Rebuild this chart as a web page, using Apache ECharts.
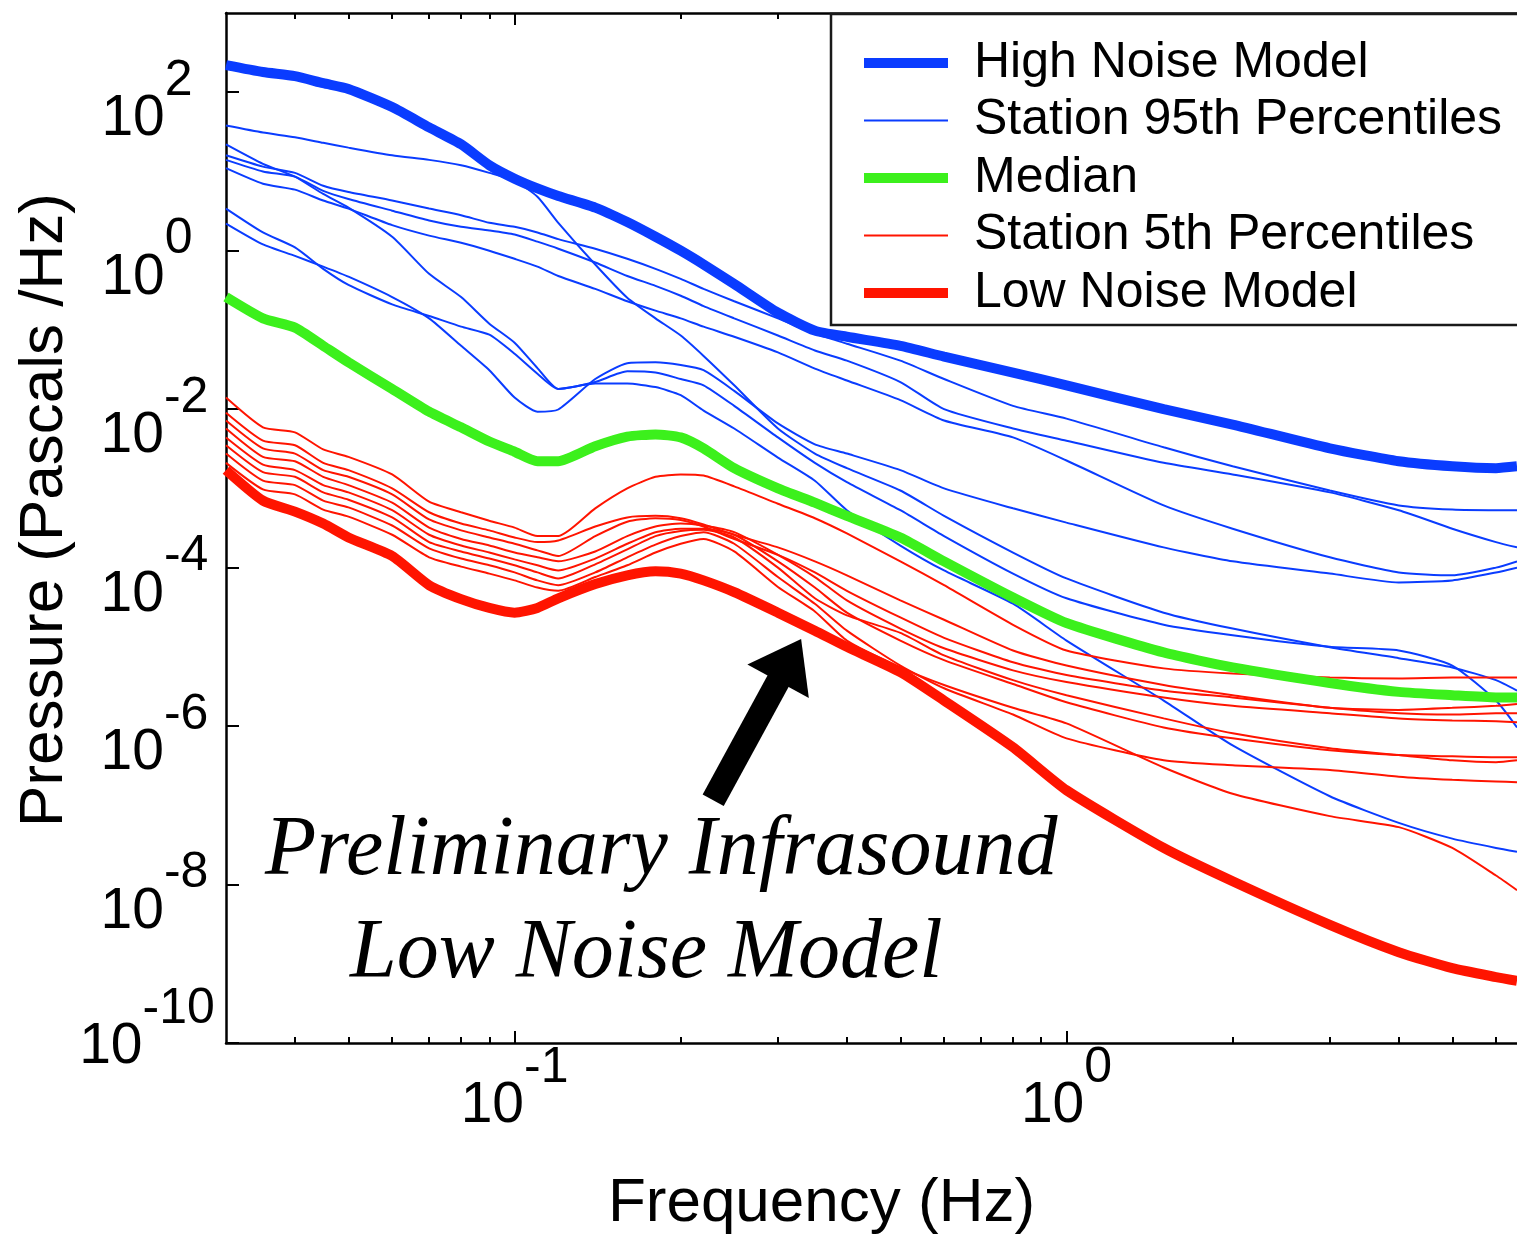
<!DOCTYPE html>
<html>
<head>
<meta charset="utf-8">
<title>Infrasound Noise Models</title>
<script src="https://cdn.jsdelivr.net/npm/echarts@6/dist/echarts.min.js"></script>
<style>html,body{margin:0;padding:0;background:#fff;}</style>
</head>
<body>
<div id="main" style="width:1517px;height:1237px;"></div>
<script>
// frequency grid (Hz), shared by every curve
var freq = [0.03, 0.035, 0.04, 0.045, 0.05, 0.06, 0.07, 0.08, 0.09, 0.1, 0.11, 0.12, 0.14, 0.16, 0.18, 0.2,
            0.22, 0.25, 0.3, 0.35, 0.4, 0.5, 0.6, 0.8, 1.0, 1.5, 2, 3, 4, 5, 6, 6.55];

// models
var highNoise = [2.2e2, 1.8e2, 1.6e2, 1.3e2, 1.1e2, 6.5e1, 3.6e1, 2.2e1, 1.2e1, 8.1, 6.1, 4.9, 3.5, 2.3, 1.5, 1.0,
                 6.7e-1, 3.8e-1, 1.65e-1, 9.8e-2, 8.2e-2, 6.3e-2, 4.6e-2, 2.9e-2, 2.0e-2, 1.0e-2, 6.4e-3, 3.2e-3, 2.2e-3, 1.9e-3, 1.8e-3, 1.9e-3];
var median    = [2.6e-1, 1.4e-1, 1.07e-1, 6.3e-2, 3.9e-2, 1.8e-2, 9.3e-3, 5.9e-3, 3.9e-3, 2.9e-3, 2.2e-3, 2.2e-3, 3.4e-3, 4.5e-3, 4.8e-3, 4.4e-3,
                 3.2e-3, 1.8e-3, 1.0e-3, 6.6e-4, 4.5e-4, 2.4e-4, 1.2e-4, 4.2e-5, 2.0e-5, 8.5e-6, 5.5e-6, 3.5e-6, 2.7e-6, 2.45e-6, 2.3e-6, 2.3e-6];
var lowNoise  = [1.7e-3, 7.0e-4, 5.1e-4, 3.6e-4, 2.4e-4, 1.4e-4, 6.0e-5, 4.0e-5, 3.1e-5, 2.7e-5, 3.1e-5, 4.1e-5, 6.2e-5, 8.0e-5, 9.0e-5, 8.4e-5,
                 6.9e-5, 4.9e-5, 2.7e-5, 1.6e-5, 1.0e-5, 4.8e-6, 2.1e-6, 5.4e-7, 1.55e-7, 2.9e-8, 1.1e-8, 3.1e-9, 1.4e-9, 8.8e-10, 6.8e-10, 6.1e-10];

// station 95th percentiles
var p95a = [3.8e1, 3.1e1, 2.7e1, 2.3e1, 2.0e1, 1.6e1, 1.4e1, 1.2e1, 9.6, 7.6, 4.8, 2.25, 6.7e-1, 2.55e-1, 1.4e-1, 8.5e-2,
            4.7e-2, 2.0e-2, 5.7e-3, 2.75e-3, 1.8e-3, 9.4e-4, 4.5e-4, 1.55e-4, 7.3e-5, 2.7e-5, 1.7e-5, 9.9e-6, 7.2e-6, 5.5e-6, 3.8e-6, 2.8e-6];
var p95b = [2.2e1, 1.25e1, 8.6, 5.2, 3.5, 1.5, 5.1e-1, 2.6e-1, 1.2e-1, 6.9e-2, 3.3e-2, 1.8e-2, 2.1e-2, 2.1e-2, 1.9e-2, 1.5e-2,
            9.6e-3, 5.7e-3, 2.45e-3, 1.25e-3, 5.3e-4, 1.9e-4, 9.2e-5, 3.5e-5, 1.2e-5, 2.1e-6, 5.7e-7, 1.3e-7, 6.0e-8, 3.8e-8, 2.9e-8, 2.6e-8];
var p95c = [3.4, 1.7, 1.1, 5.9e-1, 3.7e-1, 2.1e-1, 1.5e-1, 1.1e-1, 8.7e-2, 5.0e-2, 2.8e-2, 1.8e-2, 2.2e-2, 3.0e-2, 2.9e-2, 2.4e-2,
            2.0e-2, 1.1e-2, 4.4e-3, 2.1e-3, 1.2e-3, 5.3e-4, 2.5e-4, 8.4e-5, 4.1e-5, 1.9e-5, 1.4e-5, 1.0e-5, 9.0e-6, 5.8e-6, 2.1e-6, 9.6e-7];
var p95d = [2.2, 1.2, 8.6e-1, 6.3e-1, 4.7e-1, 2.6e-1, 1.4e-1, 6.3e-2, 3.1e-2, 1.4e-2, 9.3e-3, 9.9e-3, 2.4e-2, 3.8e-2, 3.9e-2, 3.6e-2,
            3.1e-2, 1.7e-2, 6.6e-3, 3.6e-3, 2.75e-3, 1.7e-3, 1.0e-3, 5.6e-4, 3.7e-4, 1.8e-4, 1.2e-4, 8.4e-5, 6.5e-5, 6.9e-5, 8.7e-5, 1.0e-4];
var p95e = [1.6e1, 1.15e1, 9.6, 6.6, 5.5, 4.3, 3.4, 2.8, 2.25, 2.0, 1.7, 1.4, 1.06, 7.9e-1, 5.9e-1, 4.4e-1,
            3.3e-1, 2.3e-1, 1.4e-1, 9.0e-2, 6.7e-2, 4.1e-2, 2.4e-2, 1.1e-2, 7.6e-3, 3.3e-3, 1.9e-3, 9.4e-4, 6.1e-4, 5.4e-4, 5.3e-4, 5.3e-4];
var p95f = [1.4e1, 1.0e1, 8.6, 5.7, 4.5, 3.2, 2.4, 2.0, 1.8, 1.6, 1.3, 1.06, 7.1e-1, 4.8e-1, 3.6e-1, 2.7e-1,
            2.0e-1, 1.4e-1, 8.5e-2, 5.5e-2, 4.1e-2, 2.2e-2, 1.0e-2, 5.7e-3, 4.0e-3, 2.1e-3, 1.5e-3, 8.9e-4, 5.3e-4, 3.1e-4, 2.1e-4, 1.8e-4];
var p95g = [1.1e1, 7.0, 5.9, 4.3, 3.4, 2.1, 1.55, 1.26, 1.0, 7.9e-1, 6.3e-1, 4.8e-1, 3.3e-1, 2.3e-1, 1.75e-1, 1.4e-1,
            1.1e-1, 8.2e-2, 5.2e-2, 3.25e-2, 2.3e-2, 1.3e-2, 7.2e-3, 4.4e-3, 2.25e-3, 6.1e-4, 3.1e-4, 1.35e-4, 8.7e-5, 8.0e-5, 1.0e-4, 1.2e-4];

// station 5th percentiles
var p5a = [1.4e-2, 5.9e-3, 5.1e-3, 3.1e-3, 2.5e-3, 1.5e-3, 6.8e-4, 5.0e-4, 3.9e-4, 3.2e-4, 2.5e-4, 2.5e-4, 5.6e-4, 1.0e-3, 1.4e-3, 1.5e-3,
           1.45e-3, 1.06e-3, 6.4e-4, 4.2e-4, 2.7e-4, 1.2e-4, 6.0e-5, 1.9e-5, 9.0e-6, 5.35e-6, 4.6e-6, 4.1e-6, 4.0e-6, 4.1e-6, 4.1e-6, 4.1e-6];
var p5b = [9.0e-3, 4.0e-3, 3.5e-3, 2.1e-3, 1.7e-3, 1.0e-3, 5.0e-4, 3.6e-4, 2.95e-4, 2.4e-4, 2.1e-4, 2.2e-4, 3.3e-4, 4.3e-4, 4.5e-4, 4.2e-4,
           3.5e-4, 2.6e-4, 1.8e-4, 1.2e-4, 8.0e-5, 3.85e-5, 2.2e-5, 9.0e-6, 5.8e-6, 3.3e-6, 2.45e-6, 1.7e-6, 1.6e-6, 1.7e-6, 1.8e-6, 1.9e-6];
var p5c = [7.2e-3, 3.2e-3, 2.75e-3, 1.7e-3, 1.4e-3, 8.4e-4, 4.05e-4, 2.95e-4, 2.4e-4, 2.0e-4, 1.65e-4, 1.4e-4, 2.5e-4, 3.8e-4, 4.2e-4, 4.0e-4,
           3.3e-4, 2.3e-4, 1.45e-4, 8.7e-5, 5.1e-5, 2.35e-5, 1.3e-5, 6.4e-6, 4.4e-6, 2.8e-6, 2.3e-6, 1.7e-6, 1.45e-6, 1.4e-6, 1.45e-6, 1.45e-6];
var p5d = [5.7e-3, 2.5e-3, 2.2e-3, 1.4e-3, 1.1e-3, 6.6e-4, 3.2e-4, 2.3e-4, 1.9e-4, 1.55e-4, 1.35e-4, 1.2e-4, 1.6e-4, 2.5e-4, 3.3e-4, 3.6e-4,
           3.4e-4, 2.8e-4, 1.45e-4, 7.6e-5, 3.85e-5, 1.7e-5, 9.6e-6, 5.05e-6, 3.6e-6, 2.3e-6, 1.8e-6, 1.45e-6, 1.25e-6, 1.18e-6, 1.15e-6, 1.12e-6];
var p5e = [4.4e-3, 2.0e-3, 1.7e-3, 1.1e-3, 8.9e-4, 5.3e-4, 2.6e-4, 1.9e-4, 1.55e-4, 1.27e-4, 1.07e-4, 9.2e-5, 1.3e-4, 2.0e-4, 2.8e-4, 3.1e-4,
           3.1e-4, 2.6e-4, 1.2e-4, 5.6e-5, 2.7e-5, 1.2e-5, 6.8e-6, 3.4e-6, 2.0e-6, 9.6e-7, 7.0e-7, 4.95e-7, 4.3e-7, 4.15e-7, 4.05e-7, 4.05e-7];
var p5f = [3.5e-3, 1.6e-3, 1.4e-3, 8.9e-4, 7.2e-4, 4.3e-4, 2.1e-4, 1.6e-4, 1.3e-4, 1.07e-4, 8.7e-5, 7.3e-5, 1.1e-4, 1.7e-4, 2.5e-4, 2.9e-4,
           3.0e-4, 2.4e-4, 1.0e-4, 4.1e-5, 2.5e-5, 1.5e-5, 7.8e-6, 3.8e-6, 2.45e-6, 1.25e-6, 8.1e-7, 5.25e-7, 4.3e-7, 3.7e-7, 3.5e-7, 3.7e-7];
var p5g = [2.75e-3, 1.25e-3, 1.1e-3, 7.0e-4, 5.75e-4, 3.4e-4, 1.75e-4, 1.3e-4, 1.07e-4, 8.7e-5, 6.9e-5, 6.0e-5, 8.7e-5, 1.35e-4, 1.95e-4, 2.5e-4,
           2.8e-4, 2.0e-4, 7.6e-5, 3.5e-5, 1.6e-5, 5.8e-6, 3.0e-6, 1.4e-6, 7.0e-7, 3.7e-7, 3.2e-7, 2.8e-7, 2.3e-7, 2.1e-7, 2.0e-7, 1.95e-7];
var p5h = [2.1e-3, 9.7e-4, 8.4e-4, 5.4e-4, 4.4e-4, 2.6e-4, 1.35e-4, 1.03e-4, 8.4e-5, 6.9e-5, 5.6e-5, 5.1e-5, 7.6e-5, 1.07e-4, 1.55e-4, 2.0e-4,
           2.3e-4, 1.6e-4, 5.7e-5, 2.8e-5, 1.2e-5, 5.5e-6, 3.3e-6, 1.7e-6, 1.08e-6, 3.0e-7, 1.4e-7, 7.3e-8, 5.3e-8, 2.9e-8, 1.3e-8, 8.5e-9];

var station95 = [p95a, p95b, p95c, p95d, p95e, p95f, p95g];
var station5 = [p5a, p5b, p5c, p5d, p5e, p5f, p5g, p5h];

// ticks
var yTicks = [1e-10, 1e-8, 1e-6, 1e-4, 1e-2, 1, 1e2];
var xMajor = [0.1, 1];
var xMinor = [0.04, 0.05, 0.06, 0.07, 0.08, 0.09, 0.2, 0.3, 0.4, 0.5, 0.6, 0.7, 0.8, 0.9, 2, 3, 4, 5, 6];

// arrow annotation (data coords): tail, head centre
var arrowFrom = [0.229, 1.16e-7];
var arrowTo = [0.315, 6.8e-6];

var BLUE = '#0a3cff', GREEN = '#3cf01c', RED = '#ff1400';
var FONT = 'Liberation Sans';
var THICK_ICON = 'path://M0,0H84V10H0Z';
var THIN_ICON = 'path://M0,0H84V2H0Z';

var myChart = echarts.init(document.getElementById('main'));

function pairs(vals) {
    return freq.map(function (f, i) { return [f, vals[i]]; });
}
function curve(name, vals, color, width, z) {
    return {
        name: name, type: 'line', data: pairs(vals),
        symbol: 'none', silent: true, z: z, smooth: 0.2,
        lineStyle: { color: color, width: width },
        itemStyle: { color: color },
        emphasis: { disabled: true }
    };
}

var rich = {
    b:  { fontSize: 57, fontFamily: FONT, color: '#000', padding: [35, 0, 0, 0], verticalAlign: 'bottom' },
    bn: { fontSize: 57, fontFamily: FONT, color: '#000', padding: [35, 0, 0, 15], verticalAlign: 'bottom' },
    bt: { fontSize: 57, fontFamily: FONT, color: '#000', padding: [35, 0, 46, 0], verticalAlign: 'bottom' },
    e:  { fontSize: 50, fontFamily: FONT, color: '#000', verticalAlign: 'top' },
    et: { fontSize: 50, fontFamily: FONT, color: '#000', verticalAlign: 'top' }
};

function xAxisDef(pos, ticks, len, main) {
    return {
        type: 'log', logBase: 10, min: 0.03, max: 6.55, position: pos,
        axisLine: { show: main, onZero: false, lineStyle: { color: '#000', width: 2.5 } },
        axisTick: { show: true, inside: true, length: len, customValues: ticks, lineStyle: { color: '#000', width: 2 } },
        minorTick: { show: false },
        axisLabel: { show: false },
        splitLine: { show: false }
    };
}

var xBottom = xAxisDef('bottom', xMajor, 12, true);
xBottom.axisLabel = {
    show: true, customValues: xMajor, margin: 0, rich: rich,
    formatter: function (v) { return '{b|10}{e|' + Math.round(Math.log10(v)) + '}'; }
};
xBottom.name = 'Frequency (Hz)';
xBottom.nameLocation = 'middle';
xBottom.nameGap = 130;
xBottom.nameMoveOverlap = false;
xBottom.nameTextStyle = { fontSize: 62, fontFamily: FONT, color: '#000', padding: [0, 100, 0, 0] };

var series = [];
series.push(curve('High Noise Model', highNoise, BLUE, 10, 3));
series.push(curve('Median', median, GREEN, 10, 3));
var lnm = curve('Low Noise Model', lowNoise, RED, 10, 3);
lnm.markLine = {
    silent: true, animation: false,
    symbol: ['none', 'triangle'], symbolSize: 48,
    label: { show: false },
    lineStyle: { color: '#000', width: 24, type: 'solid' },
    itemStyle: { color: '#000' },
    emphasis: { disabled: true },
    data: [[
        { coord: arrowFrom, symbol: 'none' },
        { coord: arrowTo, symbol: 'triangle', symbolSize: [70, 48] }
    ]]
};
series.push(lnm);
station95.forEach(function (s) { series.push(curve('Station 95th Percentiles', s, BLUE, 2, 2)); });
station5.forEach(function (s) { series.push(curve('Station 5th Percentiles', s, RED, 2, 2)); });

var option = {
    animation: false,
    backgroundColor: '#fff',
    grid: { left: 226, top: 13, right: 0, bottom: 194, containLabel: false, outerBoundsMode: 'none' },
    legend: {
        orient: 'vertical', left: 831, top: 14,
        itemWidth: 84, itemHeight: 14, itemGap: 7.5,
        padding: [24, 40, 7, 33],
        backgroundColor: '#fff', borderColor: '#1a1a1a', borderWidth: 2.5, borderRadius: 0,
        selectedMode: false, z: 10, symbolKeepAspect: true,
        textStyle: { fontSize: 50, fontFamily: FONT, color: '#000', padding: [0, 0, 0, 21] },
        data: [
            { name: 'High Noise Model', icon: THICK_ICON },
            { name: 'Station 95th Percentiles', icon: THIN_ICON },
            { name: 'Median', icon: THICK_ICON },
            { name: 'Station 5th Percentiles', icon: THIN_ICON },
            { name: 'Low Noise Model', icon: THICK_ICON }
        ]
    },
    xAxis: [
        xBottom,
        xAxisDef('bottom', xMinor, 6, false),
        xAxisDef('top', xMajor, 12, true),
        xAxisDef('top', xMinor, 6, false)
    ],
    yAxis: {
        type: 'log', logBase: 10, min: 1e-10, max: 1e3,
        axisLine: { show: true, onZero: false, lineStyle: { color: '#000', width: 2.5 } },
        axisTick: { show: true, inside: true, length: 13, customValues: yTicks, lineStyle: { color: '#000', width: 2 } },
        minorTick: { show: false },
        splitLine: { show: false },
        axisLabel: {
            customValues: yTicks, align: 'center', margin: 79, padding: [20, 0, 0, 0], rich: rich,
            formatter: function (v) {
                var e = Math.round(Math.log10(v));
                if (e === -10) return '{bt|10}{et|-10}';
                if (e < 0) return '{bn|10}{e|' + e + '}';
                return '{b|10}{e|' + e + '}';
            }
        },
        name: 'Pressure (Pascals /Hz)',
        nameLocation: 'middle', nameRotate: 90, nameGap: 150, nameMoveOverlap: false,
        nameTextStyle: { fontSize: 62, fontFamily: FONT, color: '#000', padding: [0, 0, 0, 36] }
    },
    graphic: [
        { type: 'text', x: 265, y: 852, silent: true, z: 20,
          style: { text: 'Preliminary Infrasound', fontSize: 84, fontFamily: 'Liberation Serif', fontStyle: 'italic',
                   fill: '#000', align: 'left', verticalAlign: 'middle' } },
        { type: 'text', x: 350, y: 955, silent: true, z: 20,
          style: { text: 'Low Noise Model', fontSize: 84, fontFamily: 'Liberation Serif', fontStyle: 'italic',
                   fill: '#000', align: 'left', verticalAlign: 'middle' } }
    ],
    series: series
};

myChart.setOption(option);
</script>
</body>
</html>
